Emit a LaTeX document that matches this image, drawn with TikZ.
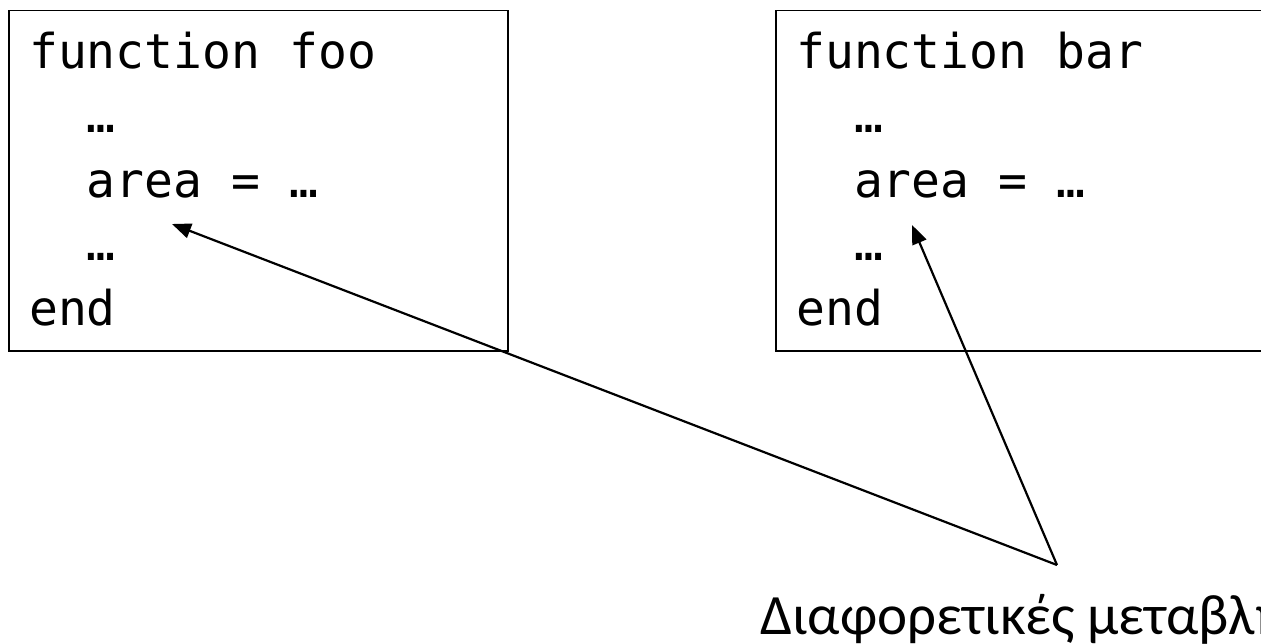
\documentclass[tikz,border=0pt]{standalone}
\usepackage{fontspec}
\setmainfont{Carlito}
\newfontfamily\codefont{DejaVu Sans Mono}
\usetikzlibrary{arrows.meta}
\tikzset{
  codebox/.style={draw=black, line width=1.5pt, anchor=north west, inner sep=0pt},
  codeline/.style={anchor=base west, inner sep=0pt, font=\codefont\fontsize{48}{48}\selectfont},
  label/.style={anchor=base west, inner sep=0pt, font=\fontsize{57}{57}\selectfont},
  pointer/.style={line width=2.2pt, -{Triangle[length=19pt,width=15pt]}}
}
\begin{document}
\begin{tikzpicture}[x=1pt,y=-1pt]
\useasboundingbox (0,0) rectangle (1261,643);
\clip (0,0) rectangle (1261,643);
\fill[white] (0,0) rectangle (1261,643);
% left box
\node[codebox, minimum width=499pt, minimum height=340.5pt] (foo) at (8,9.5) {};
\node[codeline] (f1) at (29,68) {function foo};
\node[codeline] (f2) at (29,132) {\ \ …};
\node[codeline] (f3) at (29,197) {\ \ area = …};
\node[codeline] (f4) at (29,260) {\ \ …};
\node[codeline] (f5) at (29,325) {end};
% right box
\node[codebox, minimum width=520pt, minimum height=340.5pt] (bar) at (775,9.5) {};
\node[codeline] (b1) at (796,68) {function bar};
\node[codeline] (b2) at (796,132) {\ \ …};
\node[codeline] (b3) at (796,197) {\ \ area = …};
\node[codeline] (b4) at (796,260) {\ \ …};
\node[codeline] (b5) at (796,325) {end};
% label
\node[label] (lbl) at (760,634) {Διαφορετικές μεταβλητές};
% pointers
\coordinate (src) at (1057,565);
\coordinate (tfoo) at (172,224);
\coordinate (tbar) at (912,225);
\draw[pointer] (src) -- (tfoo);
\draw[pointer] (src) -- (tbar);
\end{tikzpicture}
\end{document}
